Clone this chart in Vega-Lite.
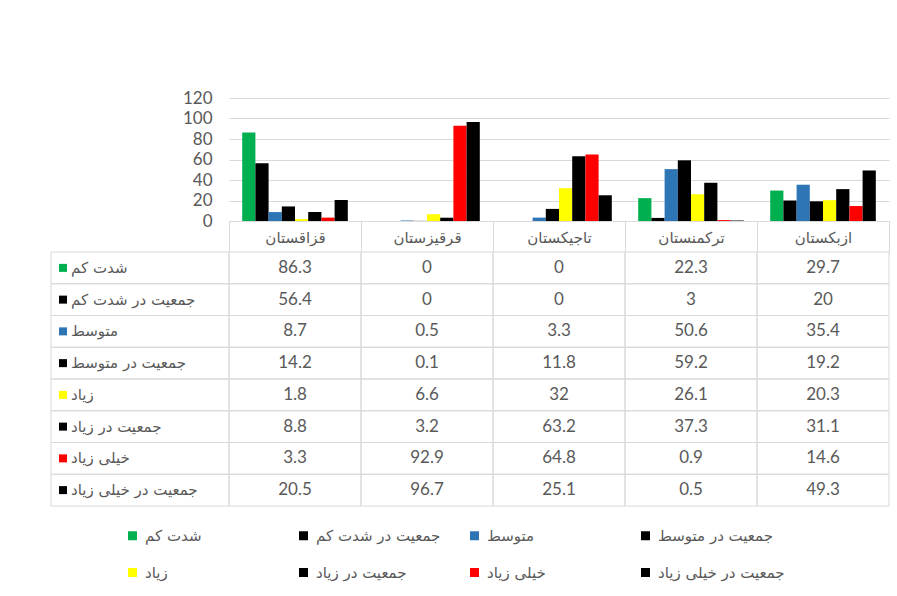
{
  "$schema": "https://vega.github.io/schema/vega-lite/v6.json",
  "background": "white",
  "padding": {"left": 50, "top": 89, "right": 9, "bottom": 5},
  "config": {
    "view": {"stroke": null},
    "font": "Lato, DejaVu Sans",
    "text": {"font": "Lato, DejaVu Sans"}
  },
  "datasets": {
    "d": [
      {"country": "قزاقستان", "series": "شدت کم", "value": 86.3},
      {"country": "قرقیزستان", "series": "شدت کم", "value": 0},
      {"country": "تاجیکستان", "series": "شدت کم", "value": 0},
      {"country": "ترکمنستان", "series": "شدت کم", "value": 22.3},
      {"country": "ازبکستان", "series": "شدت کم", "value": 29.7},
      {"country": "قزاقستان", "series": "جمعیت در شدت کم", "value": 56.4},
      {"country": "قرقیزستان", "series": "جمعیت در شدت کم", "value": 0},
      {"country": "تاجیکستان", "series": "جمعیت در شدت کم", "value": 0},
      {"country": "ترکمنستان", "series": "جمعیت در شدت کم", "value": 3},
      {"country": "ازبکستان", "series": "جمعیت در شدت کم", "value": 20},
      {"country": "قزاقستان", "series": "متوسط", "value": 8.7},
      {"country": "قرقیزستان", "series": "متوسط", "value": 0.5},
      {"country": "تاجیکستان", "series": "متوسط", "value": 3.3},
      {"country": "ترکمنستان", "series": "متوسط", "value": 50.6},
      {"country": "ازبکستان", "series": "متوسط", "value": 35.4},
      {"country": "قزاقستان", "series": "جمعیت در متوسط", "value": 14.2},
      {"country": "قرقیزستان", "series": "جمعیت در متوسط", "value": 0.1},
      {"country": "تاجیکستان", "series": "جمعیت در متوسط", "value": 11.8},
      {"country": "ترکمنستان", "series": "جمعیت در متوسط", "value": 59.2},
      {"country": "ازبکستان", "series": "جمعیت در متوسط", "value": 19.2},
      {"country": "قزاقستان", "series": "زیاد", "value": 1.8},
      {"country": "قرقیزستان", "series": "زیاد", "value": 6.6},
      {"country": "تاجیکستان", "series": "زیاد", "value": 32},
      {"country": "ترکمنستان", "series": "زیاد", "value": 26.1},
      {"country": "ازبکستان", "series": "زیاد", "value": 20.3},
      {"country": "قزاقستان", "series": "جمعیت در زیاد", "value": 8.8},
      {"country": "قرقیزستان", "series": "جمعیت در زیاد", "value": 3.2},
      {"country": "تاجیکستان", "series": "جمعیت در زیاد", "value": 63.2},
      {"country": "ترکمنستان", "series": "جمعیت در زیاد", "value": 37.3},
      {"country": "ازبکستان", "series": "جمعیت در زیاد", "value": 31.1},
      {"country": "قزاقستان", "series": "خیلی زیاد", "value": 3.3},
      {"country": "قرقیزستان", "series": "خیلی زیاد", "value": 92.9},
      {"country": "تاجیکستان", "series": "خیلی زیاد", "value": 64.8},
      {"country": "ترکمنستان", "series": "خیلی زیاد", "value": 0.9},
      {"country": "ازبکستان", "series": "خیلی زیاد", "value": 14.6},
      {"country": "قزاقستان", "series": "جمعیت در خیلی زیاد", "value": 20.5},
      {"country": "قرقیزستان", "series": "جمعیت در خیلی زیاد", "value": 96.7},
      {"country": "تاجیکستان", "series": "جمعیت در خیلی زیاد", "value": 25.1},
      {"country": "ترکمنستان", "series": "جمعیت در خیلی زیاد", "value": 0.5},
      {"country": "ازبکستان", "series": "جمعیت در خیلی زیاد", "value": 49.3}
    ],
    "empty": []
  },
  "columns": 2,
  "bounds": "flush",
  "spacing": {"row": 31, "column": 0},
  "resolve": {"scale": {"x": "independent", "y": "independent", "color": "shared"}},
  "concat": [
    {
      "width": 178,
      "height": 123,
      "data": {"name": "empty"},
      "mark": {"type": "rect", "opacity": 0},
      "encoding": {}
    },
    {
      "width": 660,
      "height": 123,
      "data": {"name": "d"},
      "mark": {"type": "bar"},
      "encoding": {
        "x": {
          "field": "country", "type": "nominal", "sort": null,
          "scale": {"paddingInner": 0, "paddingOuter": 0},
          "axis": {
            "title": null, "labelAngle": 0, "tickBand": "extent", "tickSize": 31,
            "tickColor": "#d9d9d9", "domainColor": "#d9d9d9", "labelColor": "#595959",
            "labelFontSize": 15, "labelFont": "DejaVu Sans", "labelBaseline": "middle", "labelPadding": -15
          }
        },
        "xOffset": {
          "field": "series", "type": "nominal", "sort": null,
          "scale": {"paddingInner": 0, "paddingOuter": 1.2}
        },
        "y": {
          "field": "value", "type": "quantitative",
          "scale": {"domain": [0, 120], "nice": false},
          "axis": {
            "title": null, "values": [0, 20, 40, 60, 80, 100, 120], "domain": false, "ticks": false,
            "gridColor": "#d9d9d9", "labelColor": "#595959", "labelFontSize": 17, "labelPadding": 17
          }
        },
        "color": {
          "field": "series", "type": "nominal", "sort": null,
          "scale": {
            "domain": ["شدت کم", "جمعیت در شدت کم", "متوسط", "جمعیت در متوسط", "زیاد", "جمعیت در زیاد", "خیلی زیاد", "جمعیت در خیلی زیاد"],
            "range": ["#00b050", "#000000", "#2e75b6", "#000000", "#ffff00", "#000000", "#ff0000", "#000000"]
          },
          "legend": {
            "title": null, "orient": "none", "legendX": 74, "legendY": 430, "direction": "horizontal",
            "columns": 4, "gridAlign": "all", "columnPadding": 24, "rowPadding": 21,
            "symbolType": "square", "symbolSize": 81, "symbolStrokeWidth": 0,
            "labelFont": "DejaVu Sans", "labelFontSize": 15, "labelColor": "#595959", "labelOffset": 5
          }
        }
      }
    },
    {
      "width": 178,
      "height": 254,
      "data": {"name": "d"},
      "transform": [{"filter": "datum.country == 'قزاقستان'"}],
      "encoding": {
        "y": {
          "field": "series", "type": "nominal", "sort": null,
          "scale": {"paddingInner": 0, "paddingOuter": 0},
          "axis": null
        }
      },
      "layer": [
        {"mark": {"type": "rect", "fill": null, "stroke": "#d9d9d9", "strokeWidth": 1}},
        {
          "mark": {"type": "square", "filled": true, "size": 64, "opacity": 1},
          "encoding": {"x": {"value": 12}, "color": {"field": "series", "type": "nominal", "sort": null, "legend": null}}
        },
        {
          "mark": {"type": "text", "align": "left", "baseline": "middle", "font": "DejaVu Sans", "fontSize": 15, "color": "#595959"},
          "encoding": {"x": {"value": 20}, "text": {"field": "series"}}
        }
      ]
    },
    {
      "width": 660,
      "height": 254,
      "data": {"name": "d"},
      "encoding": {
        "x": {
          "field": "country", "type": "nominal", "sort": null,
          "scale": {"paddingInner": 0, "paddingOuter": 0},
          "axis": null
        },
        "y": {
          "field": "series", "type": "nominal", "sort": null,
          "scale": {"paddingInner": 0, "paddingOuter": 0},
          "axis": null
        }
      },
      "layer": [
        {"mark": {"type": "rect", "fill": null, "stroke": "#d9d9d9", "strokeWidth": 1}},
        {
          "mark": {"type": "text", "align": "center", "baseline": "middle", "fontSize": 17, "color": "#595959"},
          "encoding": {"text": {"field": "value", "type": "quantitative"}}
        }
      ]
    }
  ]
}
